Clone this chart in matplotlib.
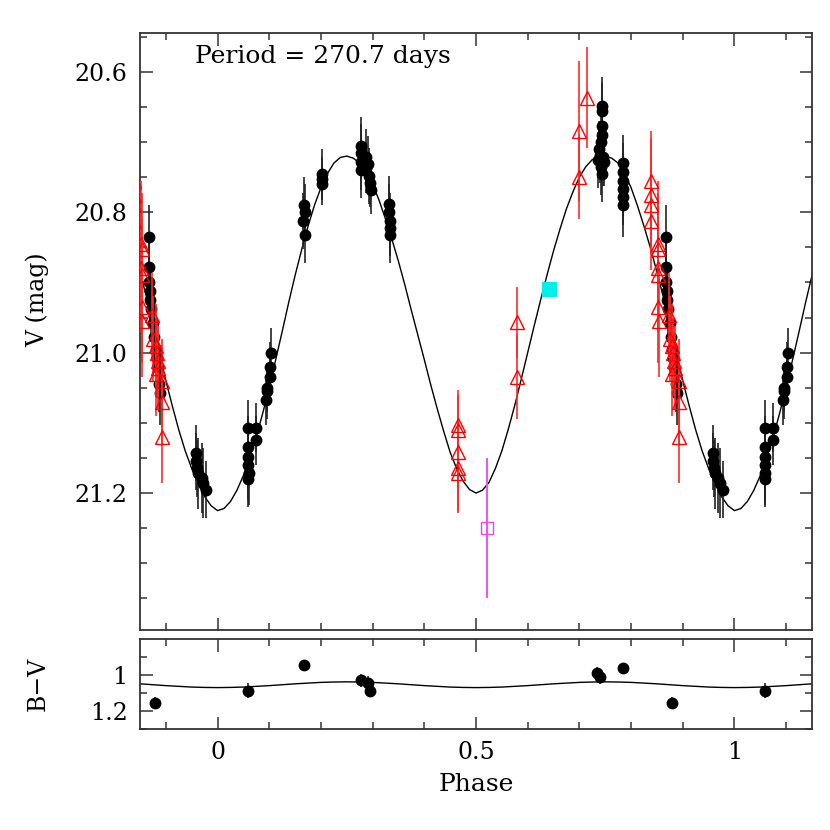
import matplotlib
matplotlib.use("Agg")
import matplotlib.pyplot as plt
import numpy as np
from matplotlib.ticker import FixedLocator, MultipleLocator

# V-band photometry (filled circles): phase, magnitude, error
black_phase = [0.867, 0.867, 0.868, 0.869, 0.870, 0.872, 0.875, 0.877, 0.880, 0.882, 0.884, 0.887, 0.889,
               0.959, 0.959, 0.960, 0.962, 0.969, 0.972, 0.978,
               0.0586, 0.075, 0.075, 0.059, 0.059, 0.059, 0.060, 0.059,
               0.104, 0.101, 0.101, 0.096, 0.095, 0.093,
               0.168, 0.169, 0.165, 0.170,
               0.203, 0.203, 0.203,
               0.277, 0.277, 0.278, 0.277, 0.287, 0.287, 0.292, 0.293, 0.294, 0.297,
               0.332, 0.332, 0.333, 0.333, 0.334,
               0.743, 0.743, 0.743, 0.743, 0.742, 0.738, 0.740, 0.745, 0.736, 0.748, 0.741, 0.744,
               0.784, 0.784, 0.784, 0.784, 0.784, 0.784]
black_mag = [20.835, 20.878, 20.900, 20.912, 20.925, 20.938, 20.958, 20.978, 20.995, 21.008, 21.022, 21.045, 21.058,
             21.143, 21.155, 21.165, 21.172, 21.178, 21.186, 21.195,
             21.107, 21.107, 21.125, 21.135, 21.148, 21.160, 21.172, 21.180,
             21.000, 21.020, 21.035, 21.050, 21.055, 21.068,
             20.790, 20.800, 20.812, 20.833,
             20.745, 20.752, 20.760,
             20.705, 20.715, 20.728, 20.740, 20.722, 20.737, 20.732, 20.748, 20.758, 20.768,
             20.788, 20.800, 20.812, 20.822, 20.833,
             20.648, 20.656, 20.677, 20.690, 20.700, 20.710, 20.718, 20.722, 20.726, 20.728, 20.735, 20.745,
             20.730, 20.742, 20.755, 20.767, 20.778, 20.790]
black_err = [0.045, 0.04, 0.04, 0.04, 0.04, 0.04, 0.04, 0.035, 0.04, 0.04, 0.04, 0.04, 0.045,
             0.04, 0.04, 0.04, 0.05, 0.05, 0.05, 0.04,
             0.04, 0.035, 0.035, 0.045, 0.05, 0.05, 0.045, 0.04,
             0.035, 0.035, 0.035, 0.035, 0.04, 0.035,
             0.04, 0.04, 0.04, 0.04,
             0.035, 0.03, 0.03,
             0.04, 0.04, 0.04, 0.04, 0.04, 0.035, 0.04, 0.04, 0.035, 0.035,
             0.04, 0.04, 0.04, 0.04, 0.04,
             0.04, 0.04, 0.04, 0.04, 0.04, 0.04, 0.04, 0.04, 0.04, 0.035, 0.04, 0.04,
             0.04, 0.04, 0.04, 0.04, 0.04, 0.045]

# second data set (open triangles)
red_phase = [0.838, 0.839, 0.838, 0.838, 0.852, 0.853, 0.852, 0.853, 0.853, 0.854,
             0.873, 0.876, 0.880, 0.882, 0.884, 0.885, 0.880, 0.892, 0.892, 0.893,
             0.714, 0.700, 0.700, 0.580, 0.580, 0.465, 0.465, 0.465, 0.465, 0.465]
red_mag = [20.755, 20.775, 20.790, 20.812, 20.845, 20.852, 20.880, 20.890, 20.935, 20.955,
           20.947, 20.980, 20.990, 21.000, 21.012, 21.022, 21.030, 21.040, 21.070, 21.120,
           20.637, 20.684, 20.750, 20.957, 21.034, 21.103, 21.110, 21.142, 21.165, 21.172]
red_err = [0.07, 0.08, 0.07, 0.07, 0.09, 0.08, 0.09, 0.08, 0.08, 0.08,
           0.06, 0.06, 0.06, 0.05, 0.05, 0.06, 0.06, 0.06, 0.06, 0.065,
           0.072, 0.10, 0.06, 0.05, 0.06, 0.05, 0.05, 0.05, 0.06, 0.057]

# single points
mag_phase, mag_v, mag_err = [0.522], [21.25], [0.10]
cyan_phase, cyan_v = [0.641], [20.909]

# fitted light curve, every 0.0125 in phase
curve_phase = [i * 0.0125 for i in range(80)]
curve_v = [21.225, 21.222, 21.212, 21.196, 21.175, 21.149, 21.120, 21.086, 21.050, 21.010,
           20.970, 20.929, 20.890, 20.854, 20.820, 20.790, 20.765, 20.745, 20.730, 20.722,
           20.720, 20.723, 20.730, 20.743, 20.760, 20.783, 20.810, 20.839, 20.870, 20.904,
           20.940, 20.975, 21.010, 21.046, 21.080, 21.112, 21.142, 21.165, 21.183, 21.195,
           21.200, 21.196, 21.185, 21.165, 21.140, 21.109, 21.075, 21.038, 21.000, 20.962,
           20.925, 20.889, 20.855, 20.824, 20.795, 20.771, 20.750, 20.735, 20.725, 20.721,
           20.720, 20.723, 20.730, 20.745, 20.765, 20.791, 20.820, 20.851, 20.885, 20.921,
           20.960, 21.000, 21.040, 21.076, 21.110, 21.140, 21.165, 21.187, 21.205, 21.218]

# B-V colour
bv_phase = [0.879, 0.059, 0.167, 0.277, 0.291, 0.295, 0.735, 0.740, 0.785]
bv_val = [1.156, 1.087, 0.944, 1.030, 1.042, 1.089, 0.990, 1.013, 0.962]
bv_err = [0.035, 0.04, 0.03, 0.035, 0.035, 0.03, 0.035, 0.035, 0.03]
bv_curve_phase = [i * 0.025 for i in range(40)]
curve_bv = [1.070, 1.069, 1.067, 1.063, 1.059, 1.054, 1.049, 1.045, 1.041, 1.039,
            1.038, 1.039, 1.041, 1.045, 1.049, 1.054, 1.059, 1.063, 1.067, 1.069,
            1.070, 1.069, 1.067, 1.063, 1.059, 1.054, 1.049, 1.045, 1.041, 1.039,
            1.038, 1.039, 1.041, 1.045, 1.049, 1.054, 1.059, 1.063, 1.067, 1.069]

SHIFTS = [-1, 0, 1]
FONT = "DejaVu Serif"
FS = 17
plt.rcParams["font.family"] = FONT


def repeat(phase):
    """Phases wrapped to cover the plotted range -0.15..1.15."""
    p = np.asarray(phase, dtype=float)
    return [p + s for s in SHIFTS]


def curve_xy(phase, vals):
    p = np.concatenate([np.asarray(phase) + s for s in (-1, 0, 1, 2)])
    v = np.tile(vals, 4)
    return p, v


def style_axes(ax):
    for sp in ax.spines.values():
        sp.set_color("#333333")
        sp.set_linewidth(1.3)
    ax.tick_params(which="both", direction="in", top=True, right=True,
                   color="#333333", width=1.1, labelsize=FS, pad=9)
    ax.tick_params(which="major", length=9)
    ax.tick_params(which="minor", length=5)
    ax.set_xlim(-0.15, 1.15)
    ax.xaxis.set_major_locator(FixedLocator([0, 0.5, 1]))
    ax.xaxis.set_minor_locator(MultipleLocator(0.1))


fig = plt.figure(figsize=(8.3, 8.3), dpi=100)
ax = fig.add_axes([0.1687, 0.241, 0.8096, 0.719])
ax2 = fig.add_axes([0.1687, 0.1217, 0.8096, 0.1084])

# top panel: V light curve
cx, cy = curve_xy(curve_phase, curve_v)
ax.plot(cx, cy, color="black", lw=1.0, zorder=2)
for p in repeat(black_phase):
    ax.errorbar(p, black_mag, yerr=black_err, fmt="o", color="black", ms=7.5,
                ecolor="#222222", elinewidth=1.2, capsize=0, zorder=3)
for p in repeat(red_phase):
    ax.errorbar(p, red_mag, yerr=red_err, fmt="^", mfc="none", mec="red", mew=1.0,
                ms=10, ecolor="#ff2a2a", elinewidth=1.2, capsize=0, zorder=4)
for p in repeat(mag_phase):
    ax.errorbar(p, mag_v, yerr=mag_err, fmt="s", mfc="none", mec="#f040f0", mew=1.0,
                ms=9, ecolor="#f050f0", elinewidth=1.4, capsize=0, zorder=4)
for p in repeat(cyan_phase):
    ax.plot(p, cyan_v, "s", color="#00eeee", ms=9.5, zorder=5)

style_axes(ax)
ax.set_ylim(21.395, 20.545)
ax.yaxis.set_major_locator(FixedLocator([20.6, 20.8, 21.0, 21.2]))
ax.yaxis.set_minor_locator(MultipleLocator(0.05))
ax.yaxis.set_major_formatter(plt.FormatStrFormatter("%.1f"))
ax.tick_params(axis="x", labelbottom=False)
ax.set_ylabel("V (mag)", fontsize=FS)
ax.text(0.082, 0.961, "Period = 270.7 days", transform=ax.transAxes,
        fontsize=18, va="center", ha="left")

# bottom panel: B-V colour
bx, by = curve_xy(bv_curve_phase, curve_bv)
ax2.plot(bx, by, color="black", lw=1.0, zorder=2)
for p in repeat(bv_phase):
    ax2.errorbar(p, bv_val, yerr=bv_err, fmt="o", color="black", ms=7.5,
                 ecolor="#222222", elinewidth=1.2, capsize=0, zorder=3)
style_axes(ax2)
ax2.set_ylim(1.3, 0.8)
ax2.yaxis.set_major_locator(FixedLocator([1.0, 1.2]))
ax2.yaxis.set_minor_locator(FixedLocator([0.9, 1.1, 1.3]))
ax2.set_yticklabels(["1", "1.2"])
ax2.set_xticklabels(["0", "0.5", "1"])
ax2.set_xlabel("Phase", fontsize=18, labelpad=6)
ax2.set_ylabel("B\u2212V", fontsize=FS)

# y labels share the same x; V label sits a little above the panel centre
ax.yaxis.set_label_coords(-0.135, 0.553)
ax2.yaxis.set_label_coords(-0.135, 0.5)

fig.savefig("out.png", dpi=100)
plt.close(fig)
print("saved out.png")
